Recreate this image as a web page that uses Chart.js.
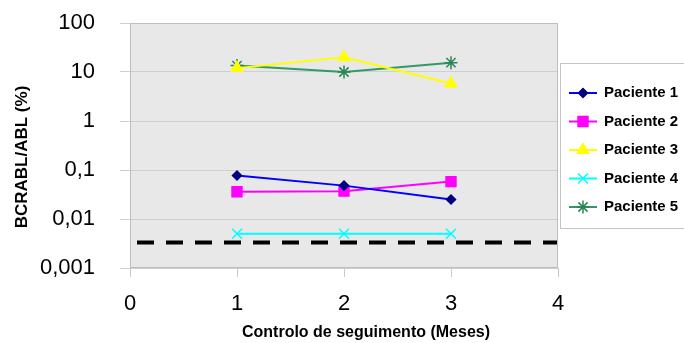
<!DOCTYPE html>
<html lang="pt">
<head>
    <meta charset="UTF-8">
    <title>BCRABL/ABL (%)</title>
    <script src="https://cdn.jsdelivr.net/npm/chart.js"></script>
    <style>
        html, body { margin: 0; padding: 0; background: #ffffff; }
        canvas { display: block; }
    </style>
</head>
<body>
    <canvas id="grafico" width="684" height="343"></canvas>

    <script>
// valores
const meses = [1, 2, 3];
const paciente1 = [0.077, 0.048, 0.025];
const paciente2 = [0.036, 0.037, 0.058];
const paciente3 = [12, 20, 5.8];
const paciente4 = [0.005, 0.005, 0.005];
const paciente5 = [13.5, 10, 15.5];
// linha tracejada (limite)
const limiteX = [0, 4];
const limiteY = [0.0033, 0.0033];

const nomes = ['Paciente 1', 'Paciente 2', 'Paciente 3', 'Paciente 4', 'Paciente 5'];
const yTicks = [0.001, 0.01, 0.1, 1, 10, 100];
const yTickLabels = ['0,001', '0,01', '0,1', '1', '10', '100'];
const xTicks = [0, 1, 2, 3, 4];
const xTickLabels = ['0', '1', '2', '3', '4'];

function pontos(xs, ys) {
    return xs.map((x, i) => ({ x: x, y: ys[i] }));
}

const FONTE = '"Liberation Sans", Arial, sans-serif';

// fundo cinza e moldura da area do grafico
const fundoPlugin = {
    id: 'fundo',
    beforeDraw(chart) {
        const { ctx, chartArea: a } = chart;
        ctx.save();
        ctx.fillStyle = '#e8e8e8';
        ctx.fillRect(a.left, a.top, a.right - a.left, a.bottom - a.top);
        ctx.restore();
    },
    afterDatasetsDraw(chart) {
        const { ctx, chartArea: a } = chart;
        ctx.save();
        ctx.strokeStyle = '#bdbdbd';
        ctx.lineWidth = 1;
        ctx.strokeRect(a.left + 0.5, a.top + 0.5, a.right - a.left - 1, a.bottom - a.top - 1);
        ctx.restore();
    }
};

// titulos dos eixos
const titulosPlugin = {
    id: 'titulos',
    afterDraw(chart) {
        const ctx = chart.ctx;
        ctx.save();
        ctx.fillStyle = '#000000';
        ctx.textAlign = 'center';
        ctx.textBaseline = 'middle';
        ctx.font = 'bold 16px ' + FONTE;
        ctx.fillText('Controlo de seguimento (Meses)', 366, 333);
        ctx.font = 'bold 17px ' + FONTE;
        ctx.translate(22, 157);
        ctx.rotate(-Math.PI / 2);
        ctx.fillText('BCRABL/ABL (%)', 0, 0);
        ctx.restore();
    }
};

// legenda em caixa branca a direita
const legendaPlugin = {
    id: 'legenda',
    afterDraw(chart) {
        const ctx = chart.ctx;
        ctx.save();
        ctx.fillStyle = '#ffffff';
        ctx.fillRect(560, 63, 130, 165);
        ctx.strokeStyle = '#c4c4c4';
        ctx.lineWidth = 1;
        ctx.strokeRect(560.5, 63.5, 130, 165);
        for (let i = 0; i < nomes.length; i++) {
            const ds = chart.data.datasets[i];
            const y = 93 + i * 28.5;
            ctx.strokeStyle = ds.borderColor;
            ctx.lineWidth = ds.borderWidth;
            ctx.beginPath();
            ctx.moveTo(569, y);
            ctx.lineTo(597, y);
            ctx.stroke();
            ctx.fillStyle = ds.pointBackgroundColor;
            ctx.strokeStyle = ds.pointBorderColor;
            ctx.lineWidth = ds.pointBorderWidth;
            Chart.helpers.drawPoint(ctx, {
                pointStyle: ds.pointStyle,
                radius: ds.pointRadius,
                rotation: 0,
                borderWidth: ds.pointBorderWidth
            }, 583, y);
            ctx.fillStyle = '#000000';
            ctx.font = 'bold 15px ' + FONTE;
            ctx.textAlign = 'left';
            ctx.textBaseline = 'middle';
            ctx.fillText(nomes[i], 604, y);
        }
        ctx.restore();
    }
};

function serie(idx, dados, linha, ponto, estilo, raio) {
    return {
        label: nomes[idx],
        data: pontos(meses, dados),
        borderColor: linha,
        borderWidth: 2,
        pointStyle: estilo,
        pointRadius: raio,
        pointHoverRadius: raio,
        pointBackgroundColor: ponto,
        pointBorderColor: ponto,
        pointBorderWidth: 1.5,
        tension: 0
    };
}

const ctx = document.getElementById('grafico').getContext('2d');
const grafico = new Chart(ctx, {
    type: 'line',
    data: {
        datasets: [
            serie(0, paciente1, '#0000ff', '#000080', 'rectRot', 4.5),
            serie(1, paciente2, '#ff00ff', '#ff00ff', 'rect', 7),
            serie(2, paciente3, '#ffff00', '#ffff00', 'triangle', 6.5),
            serie(3, paciente4, '#00ffff', '#00ffff', 'crossRot', 7),
            serie(4, paciente5, '#339966', '#2b8552', 'star', 6.5),
            {
                label: 'limite',
                data: pontos(limiteX, limiteY),
                borderColor: '#000000',
                borderWidth: 4,
                borderDash: [17, 12],
                borderDashOffset: 22,
                pointRadius: 0,
                pointHoverRadius: 0
            }
        ]
    },
    options: {
        responsive: false,
        animation: false,
        events: [],
        layout: { padding: { left: 0, right: 126, top: 23, bottom: 0 } },
        plugins: {
            legend: { display: false },
            tooltip: { enabled: false }
        },
        scales: {
            x: {
                type: 'linear',
                min: 0,
                max: 4,
                afterFit(scale) {
                    scale.height = 75;
                    scale.paddingLeft = 0;
                    scale.paddingRight = 0;
                },
                afterBuildTicks(scale) { scale.ticks = xTicks.map(v => ({ value: v })); },
                ticks: {
                    padding: 14,
                    color: '#000000',
                    font: { family: FONTE, size: 22 },
                    callback: (v, i) => xTickLabels[i]
                },
                grid: {
                    drawOnChartArea: false,
                    drawTicks: true,
                    tickLength: 9,
                    color: '#c8c8c8'
                },
                border: { display: false }
            },
            y: {
                type: 'logarithmic',
                min: 0.001,
                max: 100,
                afterFit(scale) {
                    scale.width = 130;
                    scale.paddingTop = 0;
                    scale.paddingBottom = 0;
                },
                afterBuildTicks(scale) { scale.ticks = yTicks.map(v => ({ value: v })); },
                ticks: {
                    padding: 25,
                    color: '#000000',
                    font: { family: FONTE, size: 22 },
                    callback: (v, i) => yTickLabels[i]
                },
                grid: {
                    drawOnChartArea: true,
                    drawTicks: true,
                    tickLength: 10,
                    color: '#cfcfcf'
                },
                border: { display: false }
            }
        }
    },
    plugins: [fundoPlugin, titulosPlugin, legendaPlugin]
});
    </script>
</body>
</html>
